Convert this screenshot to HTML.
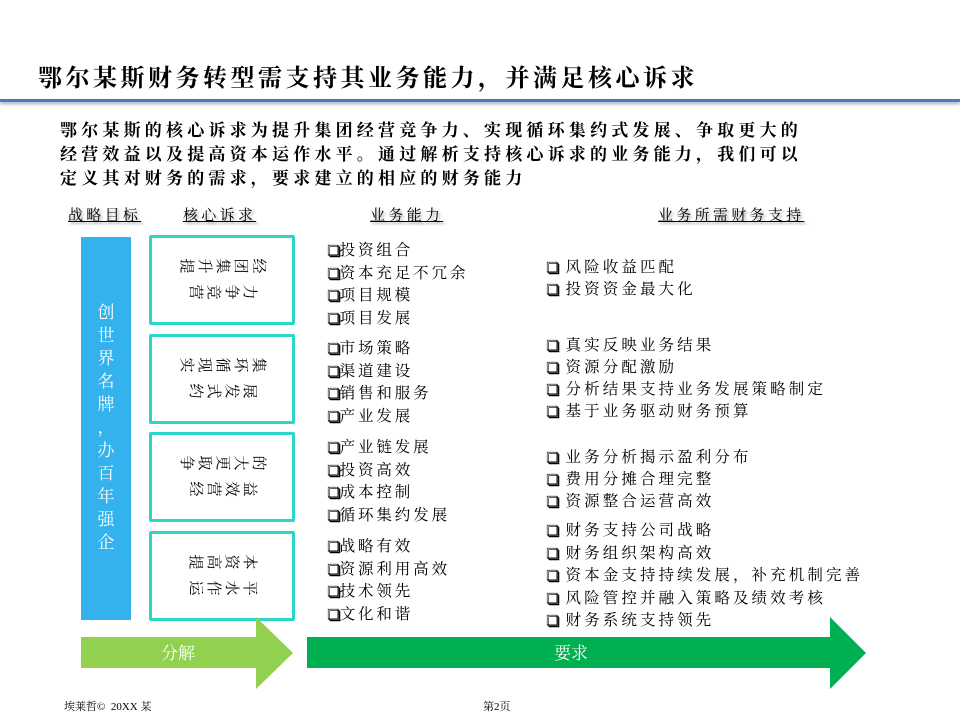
<!DOCTYPE html>
<html><head><meta charset="utf-8"><style>
body{margin:0;width:960px;height:720px;background:#fff;position:relative;overflow:hidden;font-family:"Liberation Serif","Noto Serif CJK SC",serif;color:#000}
.a{position:absolute;white-space:nowrap}
.t{font-size:24px;font-weight:bold;left:38px;top:58px;letter-spacing:3.5px}
.line{position:absolute;left:0;top:99px;width:960px;height:3px;background:#4a7bc0;box-shadow:0 2px 3px #9ab}
.p{font-size:17px;font-weight:bold;left:60px;letter-spacing:4.2px}
.h{font-size:15px;text-decoration:underline;top:204px;text-shadow:2px 2px 2px #aaa;letter-spacing:3.3px}
.li{font-size:15.5px;letter-spacing:2.9px}
.cb{font-family:"DejaVu Sans",sans-serif;font-size:14px;text-shadow:1.5px 1.5px 0 #000;margin-right:0;letter-spacing:0}
.box{position:absolute;left:149px;width:140px;height:84px;border:3px solid #2dd4c8;border-radius:2px}
.row{position:absolute;left:0;width:140px;text-align:center;font-size:15px;height:20px;line-height:20px}
.row span{display:inline-block;transform:rotate(90deg);width:18px}
.blue{position:absolute;left:81px;top:237px;width:50px;height:383px;background:#33b2ee}
.bt{position:absolute;left:81px;width:50px;text-align:center;color:#fff;font-size:17px;line-height:23px;top:301px}
.ft{font-size:11px;top:698px}
.r{letter-spacing:3.1px}
</style></head><body>
<div class="a t">鄂尔某斯财务转型需支持其业务能力，并满足核心诉求</div>
<div class="line"></div>
<div class="a p" style="top:116px">鄂尔某斯的核心诉求为提升集团经营竞争力、实现循环集约式发展、争取更大的</div>
<div class="a p" style="top:140px">经营效益以及提高资本运作水平。通过解析支持核心诉求的业务能力，我们可以</div>
<div class="a p" style="top:164px">定义其对财务的需求，要求建立的相应的财务能力</div>
<div class="a h" style="left:68px">战略目标</div>
<div class="a h" style="left:183px">核心诉求</div>
<div class="a h" style="left:370px">业务能力</div>
<div class="a h" style="left:658px">业务所需财务支持</div>

<div class="blue"></div>
<div class="bt">创<br>世<br>界<br>名<br>牌<br>，<br>办<br>百<br>年<br>强<br>企</div>

<div class="box" style="top:235px"><div class="row" style="top:18px"><span>提</span><span>升</span><span>集</span><span>团</span><span>经</span></div><div class="row" style="top:44px"><span>营</span><span>竞</span><span>争</span><span>力</span></div></div>
<div class="box" style="top:334px"><div class="row" style="top:18px"><span>实</span><span>现</span><span>循</span><span>环</span><span>集</span></div><div class="row" style="top:44px"><span>约</span><span>式</span><span>发</span><span>展</span></div></div>
<div class="box" style="top:432px"><div class="row" style="top:18px"><span>争</span><span>取</span><span>更</span><span>大</span><span>的</span></div><div class="row" style="top:44px"><span>经</span><span>营</span><span>效</span><span>益</span></div></div>
<div class="box" style="top:531px"><div class="row" style="top:18px"><span>提</span><span>高</span><span>资</span><span>本</span></div><div class="row" style="top:44px"><span>运</span><span>作</span><span>水</span><span>平</span></div></div>

<div class="a li" style="left:327px;top:240px;line-height:22.5px">
<span class="cb">❑</span>投资组合<br><span class="cb">❑</span>资本充足不冗余<br><span class="cb">❑</span>项目规模<br><span class="cb">❑</span>项目发展</div>
<div class="a li" style="left:327px;top:338px;line-height:22.5px">
<span class="cb">❑</span>市场策略<br><span class="cb">❑</span>渠道建设<br><span class="cb">❑</span>销售和服务<br><span class="cb">❑</span>产业发展</div>
<div class="a li" style="left:327px;top:437px;line-height:22.5px">
<span class="cb">❑</span>产业链发展<br><span class="cb">❑</span>投资高效<br><span class="cb">❑</span>成本控制<br><span class="cb">❑</span>循环集约发展</div>
<div class="a li" style="left:327px;top:536px;line-height:22.5px">
<span class="cb">❑</span>战略有效<br><span class="cb">❑</span>资源利用高效<br><span class="cb">❑</span>技术领先<br><span class="cb">❑</span>文化和谐</div>

<div class="a li r" style="left:546px;top:257px;line-height:22px">
<span class="cb">❑</span> 风险收益匹配<br><span class="cb">❑</span> 投资资金最大化</div>
<div class="a li r" style="left:546px;top:335px;line-height:22px">
<span class="cb">❑</span> 真实反映业务结果<br><span class="cb">❑</span> 资源分配激励<br><span class="cb">❑</span> 分析结果支持业务发展策略制定<br><span class="cb">❑</span> 基于业务驱动财务预算</div>
<div class="a li r" style="left:546px;top:447px;line-height:22px">
<span class="cb">❑</span> 业务分析揭示盈利分布<br><span class="cb">❑</span> 费用分摊合理完整<br><span class="cb">❑</span> 资源整合运营高效</div>
<div class="a li r" style="left:546px;top:520px;line-height:22.5px">
<span class="cb">❑</span> 财务支持公司战略<br><span class="cb">❑</span> 财务组织架构高效<br><span class="cb">❑</span> 资本金支持持续发展，补充机制完善<br><span class="cb">❑</span> 风险管控并融入策略及绩效考核<br><span class="cb">❑</span> 财务系统支持领先</div>

<svg class="a" style="left:0;top:0" width="960" height="720">
<polygon points="81,637 256,637 256,617 293,653 256,689 256,668 81,668" fill="#92d050"/>
<polygon points="307,637 830,637 830,617 866,653 830,689 830,668 307,668" fill="#00b050"/>
<text x="178" y="659" fill="#fff" font-size="17" text-anchor="middle" font-family="Liberation Serif, Noto Serif CJK SC, serif">分解</text>
<text x="571" y="659" fill="#fff" font-size="17" text-anchor="middle" font-family="Liberation Serif, Noto Serif CJK SC, serif">要求</text>
</svg>
<div class="a ft" style="left:64px">埃莱哲©&nbsp; 20XX 某</div>
<div class="a ft" style="left:483px">第2页</div>
</body></html>
